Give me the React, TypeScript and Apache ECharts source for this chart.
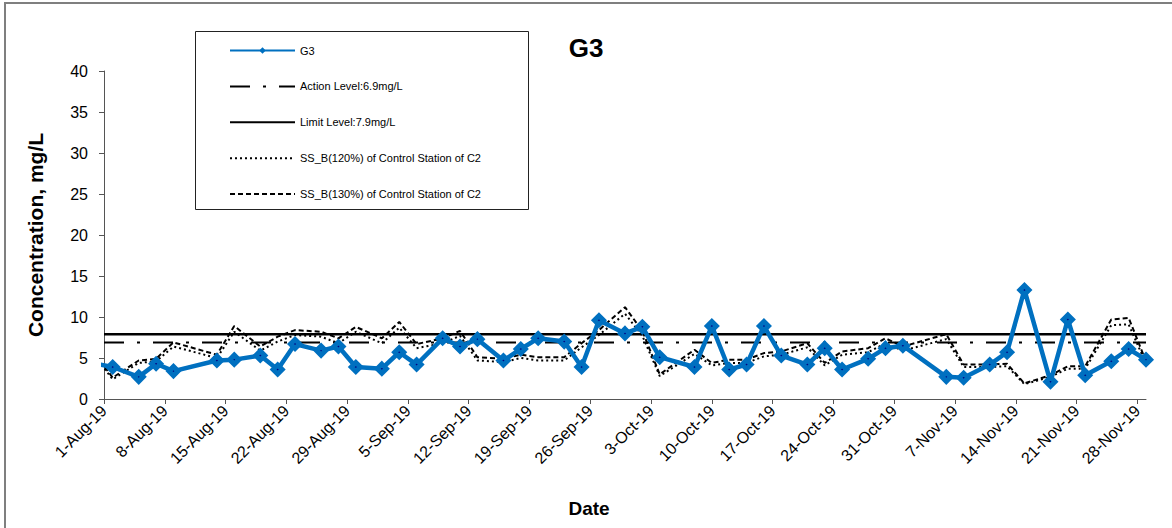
import React, { useEffect, useRef } from "react";
import * as echarts from "echarts";

// ---- data ----
const SAMPLE_DATES = [
  "2019-07-31", "2019-08-02", "2019-08-05", "2019-08-07", "2019-08-09", "2019-08-14", "2019-08-16",
  "2019-08-19", "2019-08-21", "2019-08-23", "2019-08-26", "2019-08-28", "2019-08-30", "2019-09-02",
  "2019-09-04", "2019-09-06", "2019-09-09", "2019-09-11", "2019-09-13", "2019-09-16", "2019-09-18",
  "2019-09-20", "2019-09-23", "2019-09-25", "2019-09-27", "2019-09-30", "2019-10-02", "2019-10-04",
  "2019-10-08", "2019-10-10", "2019-10-12", "2019-10-14", "2019-10-16", "2019-10-18", "2019-10-21",
  "2019-10-23", "2019-10-25", "2019-10-28", "2019-10-30", "2019-11-01", "2019-11-06", "2019-11-08",
  "2019-11-11", "2019-11-13", "2019-11-15", "2019-11-18", "2019-11-20", "2019-11-22", "2019-11-25",
  "2019-11-27", "2019-11-29",
];

const G3_VALUES = [
  4.3, 3.9, 2.7, 4.3, 3.4, 4.7, 4.8, 5.3, 3.6, 6.7, 5.9, 6.4, 3.9, 3.7, 5.7, 4.2, 7.4, 6.4, 7.3, 4.7,
  6.1, 7.4, 7.0, 3.9, 9.6, 8.0, 8.8, 5.1, 3.9, 8.9, 3.6, 4.2, 8.9, 5.3, 4.2, 6.2, 3.6, 4.9, 6.2, 6.5,
  2.7, 2.6, 4.2, 5.7, 13.3, 2.1, 9.7, 2.9, 4.6, 6.1, 4.8,
];

const SSB_130 = [
  5.5, 2.6, 4.7, 4.9, 6.9, 5.4, 8.9, 6.4, 7.6, 8.4, 8.2, 7.4, 8.8, 7.4, 9.4, 6.7, 7.4, 8.3, 5.1, 4.9,
  5.4, 5.1, 5.1, 6.8, 8.4, 11.2, 8.3, 3.0, 6.0, 4.4, 4.8, 4.8, 5.6, 5.8, 6.8, 4.4, 5.8, 6.2, 7.4, 6.4,
  7.9, 4.2, 4.2, 4.3, 1.9, 2.9, 4.0, 4.0, 9.7, 9.9, 4.6,
];

const SSB_120 = [
  5.1, 2.4, 4.4, 4.6, 6.4, 5.0, 8.2, 5.9, 7.0, 7.8, 7.6, 6.8, 8.2, 6.8, 8.7, 6.2, 6.8, 7.7, 4.7, 4.5,
  5.0, 4.7, 4.7, 6.3, 7.8, 10.4, 7.7, 2.8, 5.5, 4.1, 4.4, 4.4, 5.2, 5.4, 6.3, 4.1, 5.4, 5.7, 6.8, 5.9,
  7.3, 3.9, 3.9, 4.0, 1.8, 2.7, 3.7, 3.7, 9.0, 9.1, 4.3,
];

const ACTION_LEVEL = 6.9;
const LIMIT_LEVEL = 7.9;

const TICK_LABELS = [
  "1-Aug-19", "8-Aug-19", "15-Aug-19", "22-Aug-19", "29-Aug-19", "5-Sep-19", "12-Sep-19",
  "19-Sep-19", "26-Sep-19", "3-Oct-19", "10-Oct-19", "17-Oct-19", "24-Oct-19", "31-Oct-19",
  "7-Nov-19", "14-Nov-19", "21-Nov-19", "28-Nov-19",
];

const AXIS_START = "2019-08-01";
const AXIS_END = "2019-11-29";

const SERIES_NAMES = [
  "G3",
  "Action Level:6.9mg/L",
  "Limit Level:7.9mg/L",
  "SS_B(120%) of Control Station of C2",
  "SS_B(130%) of Control Station of C2",
];

// ---- helpers ----
const MONTHS = ["Jan", "Feb", "Mar", "Apr", "May", "Jun", "Jul", "Aug", "Sep", "Oct", "Nov", "Dec"];
const DAY_MS = 86400000;
const isoToMs = (iso: string) => {
  const [y, m, d] = iso.split("-").map(Number);
  return Date.UTC(y, m - 1, d);
};
const BASE = isoToMs(AXIS_START);
const toDay = (iso: string) => (isoToMs(iso) - BASE) / DAY_MS;
const labelToDay = (lab: string) => {
  const [d, mon, yy] = lab.split("-");
  return (Date.UTC(2000 + Number(yy), MONTHS.indexOf(mon), Number(d)) - BASE) / DAY_MS;
};
const TICK_DAYS = TICK_LABELS.map(labelToDay);
const FONT = "'Liberation Sans', Arial, sans-serif";

export default function App() {
  const ref = useRef<HTMLDivElement>(null);

  useEffect(() => {
    if (!ref.current) return;
    const chart = echarts.init(ref.current, null, { renderer: "svg" });
    const xMin = 0;
    const xMax = toDay(AXIS_END);
    const hidden = { opacity: 0 };

    const option: any = {
      animation: false,
      backgroundColor: "#fff",
      title: {
        text: "G3",
        left: "center",
        top: 30,
        textStyle: { fontFamily: FONT, fontSize: 26, fontWeight: "bold", color: "#000" },
      },
      graphic: [
        {
          type: "rect",
          shape: { x: 5, y: 3, width: 1300, height: 700 },
          style: { fill: "none", stroke: "#7f7f7f", lineWidth: 2 },
          silent: true,
        },
        {
          type: "rect",
          shape: { x: 195.5, y: 31.5, width: 333, height: 178 },
          style: { fill: "none", stroke: "#222", lineWidth: 1 },
          silent: true,
        },
      ],
      legend: {
        orient: "vertical",
        left: 229,
        top: 45,
        itemWidth: 65,
        itemHeight: 8,
        itemGap: 24.9,
        padding: 0,
        selectedMode: false,
        textStyle: { fontFamily: FONT, fontSize: 11, color: "#000" },
        data: [
          { name: SERIES_NAMES[0], itemStyle: { color: "#0070C0", borderWidth: 0 } },
          { name: SERIES_NAMES[1], itemStyle: hidden },
          { name: SERIES_NAMES[2], itemStyle: hidden },
          { name: SERIES_NAMES[3], itemStyle: hidden },
          { name: SERIES_NAMES[4], itemStyle: hidden },
        ],
      },
      grid: { left: 104, right: 26, top: 71, bottom: 129, containLabel: false },
      xAxis: {
        type: "value",
        min: xMin,
        max: xMax,
        name: "Date",
        nameLocation: "middle",
        nameGap: 100,
        nameTextStyle: {
          fontFamily: FONT,
          fontSize: 19,
          fontWeight: "bold",
          color: "#000",
          padding: [0, 72, 0, 0],
        },
        axisLine: { show: true, lineStyle: { color: "#555", width: 1 } },
        axisTick: { show: true, length: 5, customValues: TICK_DAYS, lineStyle: { color: "#555" } },
        axisLabel: {
          customValues: TICK_DAYS,
          rotate: 45,
          margin: 9,
          fontFamily: FONT,
          fontSize: 16,
          color: "#000",
          formatter: (v: number) => {
            const i = TICK_DAYS.findIndex((t) => Math.abs(t - v) < 0.01);
            return i >= 0 ? TICK_LABELS[i] : "";
          },
        },
        splitLine: { show: false },
      },
      yAxis: {
        type: "value",
        min: 0,
        max: 40,
        interval: 5,
        name: "Concentration, mg/L",
        nameLocation: "middle",
        nameGap: 58,
        nameTextStyle: { fontFamily: FONT, fontSize: 21, fontWeight: "bold", color: "#000" },
        axisLine: { show: true, lineStyle: { color: "#555", width: 1 } },
        axisTick: { show: true, length: 5, lineStyle: { color: "#555" } },
        axisLabel: { margin: 16, fontFamily: FONT, fontSize: 16, color: "#000" },
        splitLine: { show: false },
      },
      series: [
        {
          name: SERIES_NAMES[0],
          type: "line",
          z: 5,
          data: SAMPLE_DATES.map((d, i) => [toDay(d), G3_VALUES[i]]),
          symbol: "diamond",
          symbolSize: 9,
          showAllSymbol: true,
          lineStyle: { color: "#0070C0", width: 4.5 },
          itemStyle: { color: "#000080", borderColor: "#0070C0", borderWidth: 5 },
        },
        {
          name: SERIES_NAMES[1],
          type: "line",
          z: 3,
          data: [[xMin, ACTION_LEVEL], [xMax, ACTION_LEVEL]],
          symbol: "none",
          lineStyle: { color: "#000", width: 2, type: [20, 13, 3, 13] },
          itemStyle: { color: "#000" },
        },
        {
          name: SERIES_NAMES[2],
          type: "line",
          z: 3,
          data: [[xMin, LIMIT_LEVEL], [xMax, LIMIT_LEVEL]],
          symbol: "none",
          lineStyle: { color: "#000", width: 2.5 },
          itemStyle: { color: "#000" },
        },
        {
          name: SERIES_NAMES[3],
          type: "line",
          z: 2,
          data: SAMPLE_DATES.map((d, i) => [toDay(d), SSB_120[i]]),
          symbol: "none",
          lineStyle: { color: "#000", width: 2, type: [2, 3] },
          itemStyle: { color: "#000" },
        },
        {
          name: SERIES_NAMES[4],
          type: "line",
          z: 2,
          data: SAMPLE_DATES.map((d, i) => [toDay(d), SSB_130[i]]),
          symbol: "none",
          lineStyle: { color: "#000", width: 2, type: [5, 3] },
          itemStyle: { color: "#000" },
        },
      ],
    };

    chart.setOption(option);
    return () => chart.dispose();
  }, []);

  return (
    <div
      ref={ref}
      style={{ position: "fixed", left: 0, top: 0, width: 1172, height: 528, background: "#fff" }}
    />
  );
}
